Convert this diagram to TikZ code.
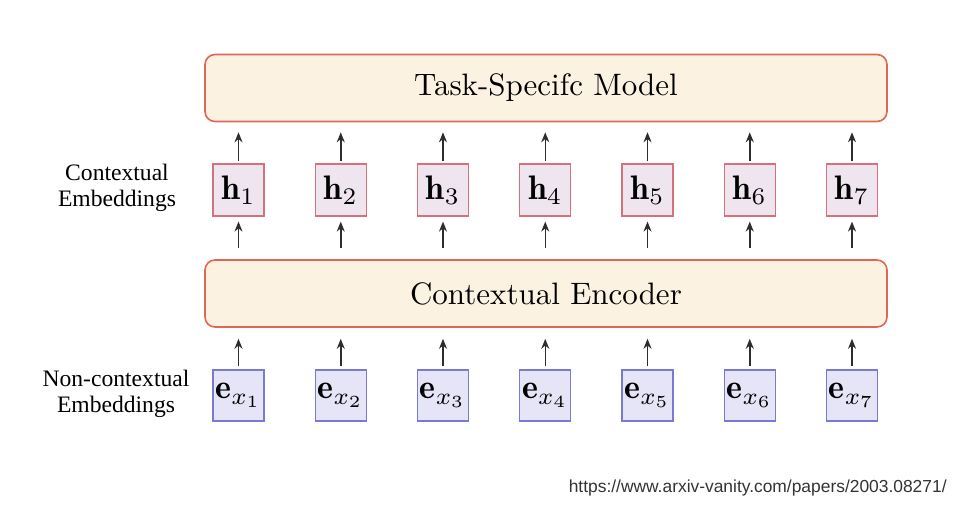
\documentclass[tikz,border=0pt]{standalone}
\usepackage{fontspec}
\usepackage{amsmath}
\usepackage{tikz}
\usetikzlibrary{arrows.meta}
\newfontfamily\labelfont{Liberation Serif}
\newfontfamily\linkfont{Liberation Sans}
\definecolor{boxfill}{RGB}{251,242,225}
\definecolor{boxline}{RGB}{221,104,84}
\definecolor{hfill}{RGB}{238,229,238}
\definecolor{hline}{RGB}{214,112,122}
\definecolor{efill}{RGB}{229,229,247}
\definecolor{eline}{RGB}{122,122,212}
\definecolor{arrowgray}{RGB}{45,45,45}
\newcommand{\bigtext}[1]{\scalebox{1.55}{#1}}
\newcommand{\celltext}[1]{\scalebox{1.7}{#1}}

\begin{document}
\begin{tikzpicture}[x=0.5pt, y=-0.5pt,
  bigbox/.style={draw=boxline, line width=0.8pt, fill=boxfill, rounded corners=5pt,
    minimum width=341pt, minimum height=33.5pt, inner sep=0pt},
  hbox/.style={draw=hline, line width=0.6pt, fill=hfill, minimum width=25.5pt,
    minimum height=26pt, inner sep=0pt},
  ebox/.style={draw=eline, line width=0.6pt, fill=efill, minimum width=25.5pt,
    minimum height=25.5pt, inner sep=0pt},
  sidelabel/.style={align=center, font=\labelfont\fontsize{11.8}{13}\selectfont},
  uparrow/.style={-{Stealth[length=5pt, width=4pt]}, line width=0.75pt, arrowgray}]
  \useasboundingbox (0,0) rectangle (957,505);
  % the two wide blocks
  \node[bigbox] (task) at (546,88) {\bigtext{Task-Specifc Model}};
  \node[bigbox] (enc) at (546,293.5) {\bigtext{Contextual Encoder}};
  % side labels
  \node[sidelabel] (ctxlabel) at (117,188) {Contextual\\Embeddings};
  \node[sidelabel] (noctxlabel) at (116,394) {Non-contextual\\Embeddings};
  % token columns
  \foreach \i in {1,...,7} {
    \node[hbox] (h\i) at ({238.5 + 102.25*(\i-1)},190) {\celltext{$\mathbf{h}_{\i}$}};
    \node[ebox] (e\i) at ({238.5 + 102.25*(\i-1)},395.5) {\celltext{$\mathbf{e}_{x_{\i}}$}};
    \draw[uparrow, shorten <=1pt, shorten >=5pt] (h\i.north) -- (task.south -| h\i);
    \draw[uparrow, shorten <=5.5pt, shorten >=2.5pt] (enc.north -| h\i) -- (h\i.south);
    \draw[uparrow, shorten <=1.5pt, shorten >=5.5pt] (e\i.north) -- (enc.south -| e\i);
  }
  \node[anchor=base east, text=black!80, inner sep=0pt,
    font=\linkfont\fontsize{8.7}{10}\selectfont] (link) at (947,492)
    {https://www.arxiv-vanity.com/papers/2003.08271/};
\end{tikzpicture}
\end{document}
